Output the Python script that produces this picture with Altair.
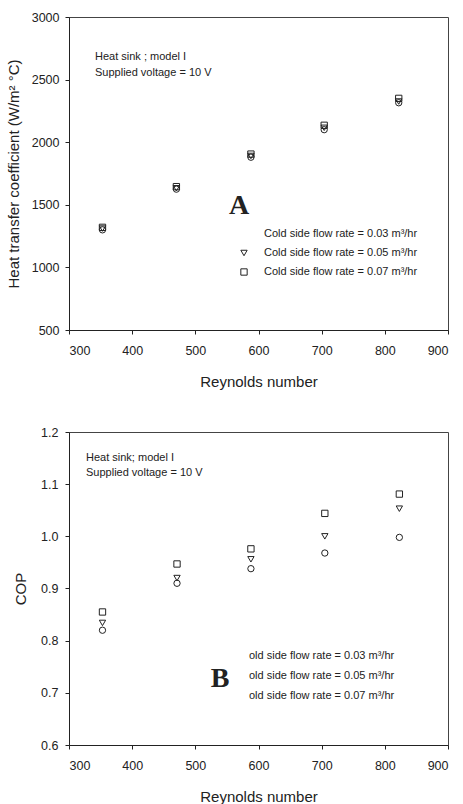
import altair as alt
import pandas as pd

# ---------------- data ----------------
series = ["0.03", "0.05", "0.07"]
shapes = ["circle", "triangle-down", "square"]

re_top = [353, 470, 588, 704, 822]
htc_003 = [1300, 1625, 1880, 2100, 2315]
htc_005 = [1310, 1632, 1890, 2115, 2325]
htc_007 = [1320, 1645, 1905, 2135, 2350]

re_bot = [353, 471, 588, 705, 823]
cop_003 = [0.820, 0.910, 0.938, 0.968, 0.998]
cop_005 = [0.834, 0.920, 0.956, 1.000, 1.053]
cop_007 = [0.855, 0.947, 0.976, 1.044, 1.081]

top_info = ["Heat sink ; model I", "Supplied voltage = 10 V"]
bot_info = ["Heat sink; model I", "Supplied voltage = 10 V"]
top_legend = ["Cold side flow rate = 0.03 m\u00b3/hr",
              "Cold side flow rate = 0.05 m\u00b3/hr",
              "Cold side flow rate = 0.07 m\u00b3/hr"]
bot_legend = ["old side flow rate = 0.03 m\u00b3/hr",
              "old side flow rate = 0.05 m\u00b3/hr",
              "old side flow rate = 0.07 m\u00b3/hr"]

def long(xs, ys_list):
    rows = []
    for s, ys in zip(series, ys_list):
        for x, y in zip(xs, ys):
            rows.append({"re": x, "val": y, "flow": s})
    return pd.DataFrame(rows)

df_top = long(re_top, [htc_003, htc_005, htc_007])
df_bot = long(re_bot, [cop_003, cop_005, cop_007])

W, H = 379, 313
FONT = "Liberation Sans"
INK = "#222222"
shape_scale = alt.Scale(domain=series, range=shapes)


def text_layer(s, x, y, size=11, font=FONT, weight="normal", align="left"):
    return alt.Chart(pd.DataFrame({"t": [s]})).mark_text(
        font=font, fontSize=size, fontWeight=weight, align=align,
        baseline="middle", color=INK
    ).encode(text="t:N", x=alt.value(x), y=alt.value(y))


def points(df, ydom, ytitle, yfmt, ytitle_pad, ylabel_pad):
    return alt.Chart(df).mark_point(
        filled=False, size=40, strokeWidth=1, color=INK, opacity=1
    ).encode(
        x=alt.X("re:Q", scale=alt.Scale(domain=[300, 900], nice=False),
                axis=alt.Axis(values=list(range(300, 901, 100)),
                              title="Reynolds number", labelPadding=10,
                              titlePadding=18, grid=False,
                              titleFontWeight="normal")),
        y=alt.Y("val:Q", scale=alt.Scale(domain=ydom, nice=False, zero=False),
                axis=alt.Axis(title=ytitle, format=yfmt, tickCount=6,
                              titlePadding=ytitle_pad, labelPadding=ylabel_pad,
                              grid=False, titleFontWeight="normal")),
        shape=alt.Shape("flow:N", scale=shape_scale, legend=None),
    )


# ---------------- top panel ----------------
top_layers = [points(df_top, [500, 3000],
                     "Heat transfer coefficient (W/m\u00b2 \u00b0C)", "d", 10, 6)]
top_layers += [text_layer(s, 26, 40 + 16 * i) for i, s in enumerate(top_info)]
top_layers.append(text_layer("A", 170, 189, size=28, font="Liberation Serif",
                             weight="bold", align="center"))
for i, s in enumerate(top_legend):
    top_layers.append(text_layer(s, 195, 217 + 19 * i))
top_layers.append(alt.Chart(pd.DataFrame({"flow": ["0.05"]})).mark_point(
    filled=False, size=40, strokeWidth=1, color=INK, opacity=1, shape="triangle-down"
).encode(x=alt.value(175), y=alt.value(236)))
top_layers.append(alt.Chart(pd.DataFrame({"flow": ["0.07"]})).mark_point(
    filled=False, size=40, strokeWidth=1, color=INK, opacity=1, shape="square"
).encode(x=alt.value(175), y=alt.value(255)))

top = alt.layer(*top_layers).properties(width=W, height=H)

# ---------------- bottom panel ----------------
bot_layers = [points(df_bot, [0.6, 1.2], "COP", ".1f", 12, 7)]
bot_layers += [text_layer(s, 17, 26 + 15 * i) for i, s in enumerate(bot_info)]
bot_layers.append(text_layer("B", 151, 247, size=28, font="Liberation Serif",
                             weight="bold", align="center"))
for i, s in enumerate(bot_legend):
    bot_layers.append(text_layer(s, 180, 224 + 20 * i))

bot = alt.layer(*bot_layers).properties(width=W, height=H)

chart = alt.vconcat(top, bot, spacing=35).properties(
    padding={"top": 10, "left": 5, "right": 10, "bottom": 0},
    background="white",
).configure_view(stroke="#444444", strokeWidth=1).configure_axis(
    labelFont=FONT, labelFontSize=12.5, labelColor=INK,
    titleFont=FONT, titleFontSize=15, titleFontWeight="normal", titleColor=INK,
    tickSize=4, tickColor=INK, domainColor=INK, grid=False,
)

chart.save("out.html", embed_options={"renderer": "svg", "actions": False})
